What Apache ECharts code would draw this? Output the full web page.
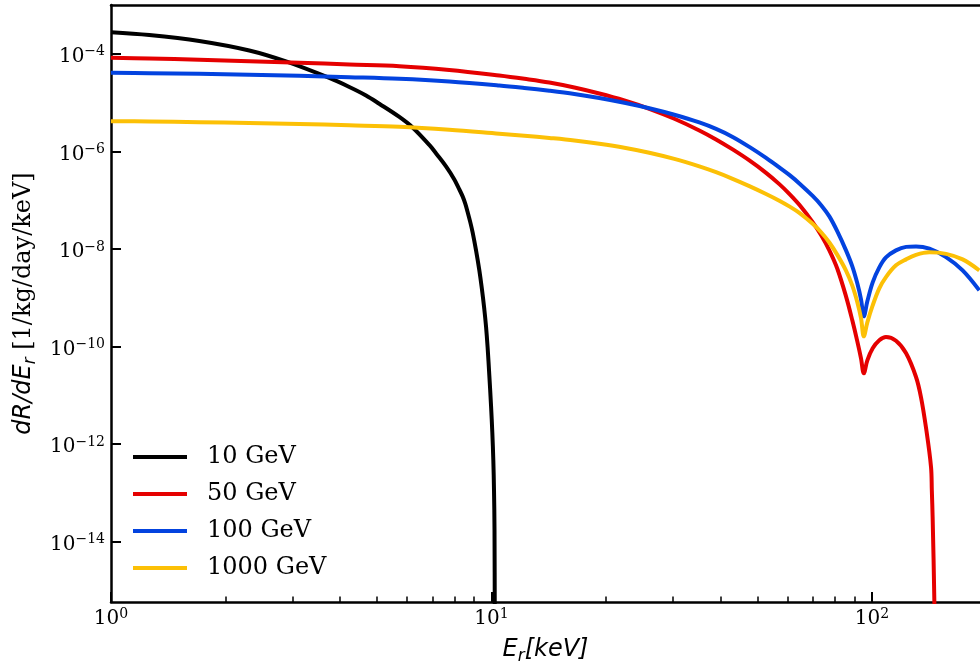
<!DOCTYPE html>
<html><head><meta charset="utf-8">
<script src="https://cdn.jsdelivr.net/npm/echarts@6/dist/echarts.min.js"></script>
<style>html,body{margin:0;padding:0;background:#fff}#c{width:980px;height:663px}</style>
</head><body><div id="c"></div>
<script>
// ---- data (E in keV, rate in 1/kg/day/keV) ----
const seriesNames = ['10 GeV', '50 GeV', '100 GeV', '1000 GeV'];
const seriesColors = ['#000000', '#e50000', '#0343df', '#fcc006'];

const E_10 = [1, 1.261, 1.706, 2.309, 2.884, 3.747, 4.230, 4.68, 5.07, 5.725, 6.203, 6.863, 7.203, 7.593, 7.985, 8.181, 8.396, 8.535, 8.654, 8.797, 8.920, 9.106, 9.290, 9.430, 9.574, 9.673, 9.767, 9.868, 9.970, 10.048, 10.11, 10.152, 10.183, 10.202];
const R_10 = [2.771e-4, 2.428e-4, 1.830e-4, 1.168e-4, 6.955e-5, 3.192e-5, 2.088e-5, 1.398e-5, 9.45e-6, 5.07e-6, 3.088e-6, 1.352e-6, 8.44e-7, 4.905e-7, 2.656e-7, 1.820e-7, 1.191e-7, 8.36e-8, 5.677e-8, 3.491e-8, 2.178e-8, 9.32e-9, 3.625e-9, 1.551e-9, 5.755e-10, 2.582e-10, 9.58e-11, 2.557e-11, 6.21e-12, 1.737e-12, 4.634e-13, 1.125e-13, 1.704e-14, 1e-16];

const E_grid = [1, 1.261, 1.706, 2.309, 3.126, 4.230, 5.725, 7.746, 10.48, 12.20, 14.19, 16.51, 19.20, 22.34, 25.98, 30.23, 35.17, 38.91, 43.02, 47.60, 52.66, 57.06, 60.62, 64.42, 69.82, 73.59, 77.24, 81.06, 85.43, 88.75, 91.48, 93.55, 95.15, 97.20, 100.4, 104.5, 108.8, 115.6, 122.9, 130.5, 141.5, 156.5, 173.0, 191.4];

const E_50 = E_grid.slice(0, 40).concat([134.5, 138.7, 142.9, 143.6, 144.3, 145.8, 146.7]);
const R_50 = [8.28e-5, 8.01e-5, 7.53e-5, 7.05e-5, 6.54e-5, 6.03e-5, 5.57e-5, 4.656e-5, 3.591e-5, 3.074e-5, 2.581e-5, 2.039e-5, 1.536e-5, 1.104e-5, 7.46e-6, 4.656e-6, 2.681e-6, 1.753e-6, 1.094e-6, 6.51e-7, 3.625e-7, 2.127e-7, 1.346e-7, 8.01e-8, 3.541e-8, 1.873e-8, 9.32e-9, 3.911e-9, 1.063e-9, 3.425e-10, 1.272e-10, 5.70e-11, 2.810e-11, 5.19e-11, 9.14e-11, 1.334e-10, 1.558e-10, 1.303e-10, 7.22e-11, 2.360e-11, 9.06e-12, 2.097e-12, 3.38e-13, 1.125e-13, 3.19e-14, 6.27e-16, 1e-17];

const E_100 = E_grid;
const R_100 = [4.080e-5, 4.004e-5, 3.892e-5, 3.730e-5, 3.541e-5, 3.315e-5, 3.074e-5, 2.706e-5, 2.240e-5, 1.991e-5, 1.745e-5, 1.500e-5, 1.243e-5, 9.91e-6, 7.64e-6, 5.623e-6, 3.910e-6, 2.877e-6, 1.973e-6, 1.231e-6, 7.32e-7, 4.678e-7, 3.284e-7, 2.199e-7, 1.219e-7, 7.785e-8, 4.634e-8, 2.284e-8, 9.32e-9, 4.38e-9, 1.963e-9, 9.23e-10, 4.137e-10, 8.40e-10, 2.058e-9, 4.177e-9, 6.69e-9, 9.32e-9, 1.099e-8, 1.125e-8, 1.009e-8, 6.79e-9, 3.625e-9, 1.411e-9];

const E_1000 = E_grid;
const R_1000 = [4.158e-6, 4.099e-6, 3.966e-6, 3.819e-6, 3.643e-6, 3.425e-6, 3.192e-6, 2.771e-6, 2.295e-6, 2.088e-6, 1.882e-6, 1.672e-6, 1.431e-6, 1.185e-6, 9.36e-7, 6.99e-7, 4.905e-7, 3.729e-7, 2.732e-7, 1.935e-7, 1.334e-7, 9.72e-8, 7.43e-8, 5.466e-8, 3.268e-8, 2.168e-8, 1.352e-8, 7.53e-9, 3.591e-9, 1.761e-9, 8.08e-10, 3.819e-10, 1.611e-10, 3.118e-10, 6.95e-10, 1.551e-9, 2.643e-9, 4.590e-9, 6.09e-9, 7.53e-9, 8.48e-9, 7.90e-9, 6.09e-9, 3.625e-9];

// axis ranges and ticks
const xRange = [1, 192.2];
const yRangeExp = [-15.24, -3];
const xMajorExp = [0, 1, 2];
const xMinorTicks = [2, 3, 4, 5, 6, 7, 8, 9, 20, 30, 40, 50, 60, 70, 80, 90];
const yMajorExp = [-14, -12, -10, -8, -6, -4];

// ---- chart ----
const L = Math.log10;
const toPts = (E, R) => E.map((e, i) => [L(e), L(R[i])]);
const allE = [E_10, E_50, E_100, E_1000];
const allR = [R_10, R_50, R_100, R_1000];

const supRich = {
  b: {fontFamily: 'DejaVu Serif', fontSize: 20, lineHeight: 24, color: '#000'},
  s: {fontFamily: 'DejaVu Serif', fontSize: 14, lineHeight: 12, verticalAlign: 'top', color: '#000'}
};
const fmt = v => '{b|10}{s|' + String(Math.round(v)).replace('-', '\u2212') + '}';
const nameRich = {
  i: {fontFamily: 'DejaVu Sans', fontStyle: 'italic', fontSize: 24, lineHeight: 30, color: '#000'},
  s: {fontFamily: 'DejaVu Sans', fontStyle: 'italic', fontSize: 16.8, lineHeight: 20, verticalAlign: 'bottom', color: '#000'},
  n: {fontFamily: 'DejaVu Serif', fontSize: 24, lineHeight: 30, color: '#000'}
};
const axisMin = L(xRange[0]), axisMax = L(xRange[1]);

const chart = echarts.init(document.getElementById('c'), null, {renderer: 'canvas'});
chart.setOption({
  animation: false,
  backgroundColor: '#fff',
  grid: {left: 111, top: 5, right: 0, height: 597, show: false, containLabel: false, outerBoundsMode: 'none'},
  xAxis: [{
    type: 'value', min: axisMin, max: axisMax, position: 'bottom',
    axisLine: {onZero: false, lineStyle: {color: '#000', width: 2.5}},
    axisTick: {inside: true, length: 10, lineStyle: {color: '#000', width: 2}, customValues: xMajorExp},
    axisLabel: {customValues: xMajorExp, formatter: fmt, rich: supRich, margin: 5},
    splitLine: {show: false},
    name: '{i|E}{s|r}{i|[keV]}', nameLocation: 'middle', nameGap: 33,
    nameTextStyle: {rich: nameRich}
  }, {
    type: 'value', min: axisMin, max: axisMax, position: 'bottom',
    axisLine: {show: false},
    axisTick: {inside: true, length: 5.5, lineStyle: {color: '#000', width: 1.5}, customValues: xMinorTicks.map(L)},
    axisLabel: {show: false},
    splitLine: {show: false}
  }, {
    type: 'value', min: axisMin, max: axisMax, position: 'top',
    axisLine: {onZero: false, lineStyle: {color: '#000', width: 2.5}},
    axisTick: {show: false}, axisLabel: {show: false}, splitLine: {show: false}
  }],
  yAxis: {
    type: 'value', min: yRangeExp[0], max: yRangeExp[1],
    axisLine: {onZero: false, lineStyle: {color: '#000', width: 2.5}},
    axisTick: {inside: true, length: 10, lineStyle: {color: '#000', width: 2}, customValues: yMajorExp},
    axisLabel: {customValues: yMajorExp, formatter: fmt, rich: supRich, margin: 6, padding: [6, 0, 0, 0]},
    splitLine: {show: false},
    name: '{i|dR/dE}{s|r}{n| [1/kg/day/keV]}', nameLocation: 'middle', nameGap: 69,
    nameTextStyle: {rich: nameRich}
  },
  legend: {
    orient: 'vertical', left: 128, top: 440, padding: 5,
    icon: 'rect', itemWidth: 54, itemHeight: 4, itemGap: 13,
    data: seriesNames,
    formatter: n => '{t|' + n + '}',
    textStyle: {rich: {t: {fontFamily: 'DejaVu Serif', fontSize: 24, lineHeight: 24, padding: [0, 0, 0, 15], color: '#000'}}}
  },
  series: seriesNames.map((name, k) => ({
    name, type: 'line', xAxisIndex: 0, yAxisIndex: 0,
    data: toPts(allE[k], allR[k]),
    symbol: 'none', showSymbol: false, smooth: 0.35, clip: true,
    lineStyle: {width: 4, color: seriesColors[k]},
    itemStyle: {color: seriesColors[k]}
  }))
});
</script></body></html>
